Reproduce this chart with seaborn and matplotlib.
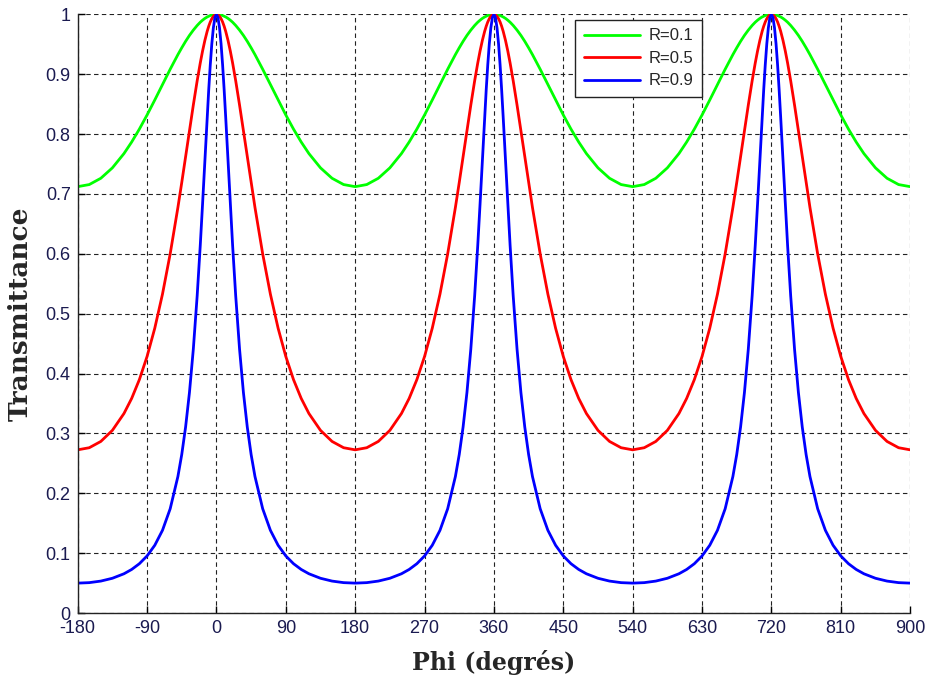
import numpy as np
import pandas as pd
import seaborn as sns
import matplotlib
matplotlib.use('Agg')
import matplotlib.pyplot as plt

sns.set_style('white')
plt.rcParams['font.family'] = ['Liberation Sans', 'DejaVu Sans']
plt.rcParams['axes.unicode_minus'] = False

# ----------------------------------------------------------------------
# values, half a period (0 -> 180 deg), curves are symmetric
# ----------------------------------------------------------------------
phi_half = [0, 2, 4, 6, 8, 10, 12, 15, 18, 21, 25, 30, 35, 40, 45, 50,
            60, 70, 80, 90, 100, 110, 120, 135, 150, 165, 180]

t_r01 = [1.0, 1.0, 0.9995, 0.9989, 0.998, 0.9969, 0.9956, 0.9932, 0.9902,
         0.9868, 0.9814, 0.9736, 0.9648, 0.9549, 0.9441, 0.9327, 0.9083,
         0.8827, 0.8569, 0.8319, 0.8083, 0.7867, 0.7674, 0.7436, 0.7262,
         0.7157, 0.7122]
t_r05 = [1.0, 0.9992, 0.9968, 0.9927, 0.9872, 0.9801, 0.9717, 0.9565, 0.9387,
         0.9186, 0.889, 0.8484, 0.8057, 0.7622, 0.7191, 0.6774, 0.6,
         0.5327, 0.4758, 0.4286, 0.3899, 0.3585, 0.3333, 0.3052, 0.2867,
         0.2762, 0.2727]
t_r09 = [1.0, 0.9943, 0.9774, 0.9507, 0.9156, 0.8742, 0.8285, 0.756, 0.6832,
         0.6138, 0.5298, 0.4407, 0.3685, 0.3109, 0.2649, 0.2281, 0.1743,
         0.1383, 0.1133, 0.0955, 0.0825, 0.0729, 0.0657, 0.0582, 0.0535,
         0.0509, 0.0501]

peaks = [0, 360, 720]
labels = ['R=0.1', 'R=0.5', 'R=0.9']
colors = ['#00ff00', '#ff0000', '#0000ff']
xticks = [-180, -90, 0, 90, 180, 270, 360, 450, 540, 630, 720, 810, 900]
yticks = [0, 0.1, 0.2, 0.3, 0.4, 0.5, 0.6, 0.7, 0.8, 0.9, 1]
ytick_labels = ['0', '0.1', '0.2', '0.3', '0.4', '0.5', '0.6', '0.7',
                '0.8', '0.9', '1']

# build the long table: mirror each half period around every peak
rows = []
for lab, half in zip(labels, [t_r01, t_r05, t_r09]):
    for i, c in enumerate(peaks):
        left = [(c - p, v) for p, v in zip(phi_half[::-1], half[::-1])]
        right = [(c + p, v) for p, v in zip(phi_half[1:], half[1:])]
        if i > 0:
            left = left[1:]
        for x, y in left + right:
            rows.append({'Phi': x, 'T': y, 'R': lab})
df = pd.DataFrame(rows)

# ----------------------------------------------------------------------
# plot
# ----------------------------------------------------------------------
fig = plt.figure(figsize=(9.26, 6.82), dpi=100)
ax = fig.add_axes([0.0839, 0.101, 0.899, 0.878])

sns.lineplot(data=df, x='Phi', y='T', hue='R', hue_order=labels,
             palette=colors, estimator=None, sort=False, linewidth=2, ax=ax)

ax.set_xlim(-180, 900)
ax.set_ylim(0, 1)
ax.set_xticks(xticks)
ax.set_yticks(yticks)
ax.set_yticklabels(ytick_labels)
ax.tick_params(direction='in', length=5, width=1, labelsize=13,
               top=False, right=False, bottom=True, left=True, pad=5,
               colors='black', labelcolor='#1a1a50')
ax.grid(True, color='#222222', linestyle=(0, (4, 3)), linewidth=0.8)
ax.spines['top'].set_visible(False)
ax.spines['right'].set_visible(False)
for s in ['left', 'bottom']:
    ax.spines[s].set_color('#222222')
    ax.spines[s].set_linewidth(1)

ax.set_xlabel('Phi (degrés)', family='DejaVu Serif', fontweight='bold',
              fontsize=17, labelpad=9)
ax.set_ylabel('Transmittance', family='DejaVu Serif', fontweight='bold',
              fontsize=19, labelpad=9)

leg = ax.legend(loc='upper right', bbox_to_anchor=(0.7497, 0.9905),
                borderaxespad=0, fontsize=12, frameon=True, fancybox=False,
                edgecolor='#222222', handlelength=3.4, handletextpad=0.5,
                borderpad=0.5, labelspacing=0.45)
leg.get_frame().set_linewidth(1)
leg.get_frame().set_alpha(1)

fig.savefig('out.png', dpi=100)
